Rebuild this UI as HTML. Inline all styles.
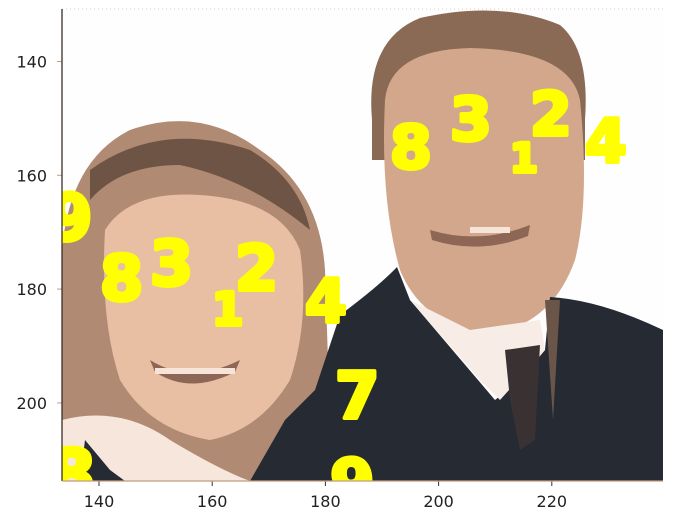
<!DOCTYPE html>
<html><head><meta charset="utf-8"><style>
html,body{margin:0;padding:0;background:#fff;width:673px;height:531px;overflow:hidden}
svg text{font-family:"DejaVu Sans","Liberation Sans",sans-serif}
</style></head><body>
<svg id="chart" width="673" height="531" viewBox="0 0 673 531" xmlns="http://www.w3.org/2000/svg">
<defs><clipPath id="clip"><rect x="62" y="9" width="601" height="472"/></clipPath></defs>
<g clip-path="url(#clip)">
<rect x="62" y="9" width="601" height="472" fill="#fefefe"/>
<path d="M62 250 Q70 160 130 130 Q200 105 260 150 Q320 190 325 270 L330 420 L250 481 L62 481 Z" fill="#b08a72"/>
<path d="M90 170 Q160 120 250 150 Q300 180 310 230 Q250 180 180 165 Q120 165 90 200 Z" fill="#6e5444"/>
<path d="M105 230 Q130 190 200 195 Q280 200 300 250 Q310 320 290 380 Q260 430 210 440 Q150 430 120 380 Q100 320 105 230 Z" fill="#e9bfa3"/>
<path d="M150 360 Q190 385 240 360 L235 372 Q190 395 155 372 Z" fill="#8d6656"/>
<rect x="155" y="368" width="80" height="6" fill="#f7e4d8"/>
<path d="M62 420 Q120 405 170 440 Q220 470 250 481 L62 481 Z" fill="#f6e6dc"/>
<path d="M85 440 L110 470 L125 481 L80 481 Z" fill="#262a33"/>
<path d="M372 120 Q365 40 420 18 Q500 0 560 25 Q590 50 585 120 L585 160 L372 160 Z" fill="#8a6a55"/>
<path d="M385 100 Q390 50 470 48 Q570 50 580 100 Q590 200 575 260 Q550 330 480 335 Q420 320 400 270 Q380 200 385 100 Z" fill="#d3a78b"/>
<path d="M430 230 Q480 245 530 225 L528 236 Q480 255 432 240 Z" fill="#8d6656"/>
<rect x="470" y="227" width="40" height="6" fill="#f7e4d8"/>
<path d="M397 267 Q380 285 340 315 L315 390 L285 420 L250 481 L663 481 L663 330 Q600 300 550 297 L545 350 L520 380 L495 400 L410 300 Z" fill="#262a33"/>
<path d="M410 300 L470 330 L540 320 L545 350 L500 400 L480 380 Z" fill="#f8ece6"/>
<path d="M505 350 L540 345 L535 440 L520 450 L510 400 Z" fill="#3a3232"/>
<path d="M545 300 L553 420 L560 300 Z" fill="#6b5548"/>
<g fill="#ffff00" font-weight="bold" stroke="#ffff00" stroke-width="4" stroke-linejoin="round">
<text x="390" y="168" font-size="60">8</text>
<text x="450" y="140" font-size="60">3</text>
<text x="510" y="172" font-size="40">1</text>
<text x="530" y="135" font-size="60">2</text>
<text x="585" y="162" font-size="60">4</text>
<text x="100" y="300" font-size="62">8</text>
<text x="150" y="285" font-size="62">3</text>
<text x="212" y="325" font-size="45">1</text>
<text x="235" y="290" font-size="62">2</text>
<text x="305" y="322" font-size="60">4</text>
<text x="335" y="418" font-size="64">7</text>
<text x="330" y="505" font-size="64">9</text>
<text x="48" y="240" font-size="64">9</text>
<text x="48" y="498" font-size="68">8</text>
</g>
</g>
<g id="axes"></g>
<line x1="62" y1="9" x2="663" y2="9" stroke="#e8c8b4" stroke-width="1" stroke-dasharray="1,3"/>
<line x1="62" y1="9" x2="62" y2="481" stroke="#3a2e28" stroke-width="1.3"/>
<line x1="62" y1="481" x2="663" y2="481" stroke="#c79a7e" stroke-width="1.3"/>
</svg>
<script>
const xTicks = [140, 160, 180, 200, 220];
const yTicks = [140, 160, 180, 200];
function xScale(v){ return 99 + (v - 140) * 113.2 / 20; }
function yScale(v){ return 61.5 + (v - 140) * 113.8 / 20; }
const g = document.getElementById('axes');
const NS = 'http://www.w3.org/2000/svg';
xTicks.forEach(v => {
  const x = xScale(v);
  const t = document.createElementNS(NS, 'line');
  t.setAttribute('x1', x); t.setAttribute('x2', x); t.setAttribute('y1', 481); t.setAttribute('y2', 486);
  t.setAttribute('stroke', '#333'); t.setAttribute('stroke-width', '1');
  
  
  g.appendChild(t);
  const l = document.createElementNS(NS, 'text');
  l.setAttribute('x', x); l.setAttribute('y', 507); l.setAttribute('text-anchor', 'middle');
  l.setAttribute('font-size', '16'); l.setAttribute('fill', '#222');
  l.textContent = v;
  
  
  g.appendChild(l);
});
yTicks.forEach(v => {
  const y = yScale(v);
  const t = document.createElementNS(NS, 'line');
  t.setAttribute('x1', 57); t.setAttribute('x2', 62); t.setAttribute('y1', y); t.setAttribute('y2', y);
  t.setAttribute('stroke', '#c79a7e'); t.setAttribute('stroke-width', '1');
  
  
  g.appendChild(t);
  const l = document.createElementNS(NS, 'text');
  l.setAttribute('x', 47); l.setAttribute('y', y + 6); l.setAttribute('text-anchor', 'end');
  l.setAttribute('font-size', '16'); l.setAttribute('fill', '#222');
  l.textContent = v;
  
  
  g.appendChild(l);
});
</script>
</body></html>
